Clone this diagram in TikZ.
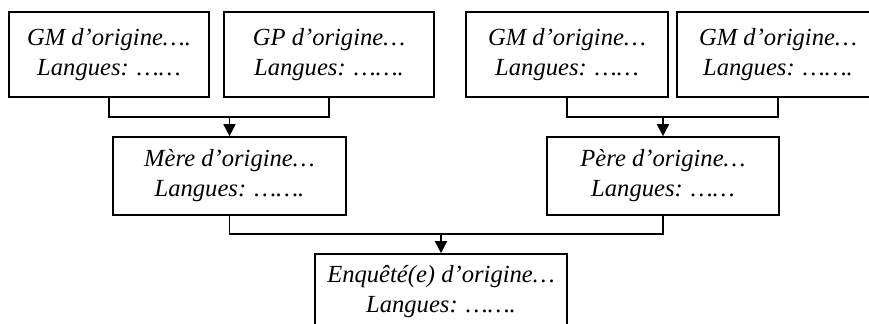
\documentclass[tikz,border=0pt]{standalone}
\usepackage{fontspec}
\setmainfont{Liberation Serif}
\usepackage{tikz}
\usetikzlibrary{arrows.meta, positioning, calc}

\tikzset{
  boite/.style={draw, line width=0.8pt, align=center, inner sep=0pt,
    font=\itshape\fontsize{12.3}{15}\selectfont},
  lien/.style={line width=0.8pt},
  fleche/.style={line width=0.8pt, -{Triangle[width=6pt,length=6pt]}}
}

\begin{document}
\begin{tikzpicture}[x=0.5pt, y=-0.5pt]
\useasboundingbox (0,0) rectangle (869,324);

% Grands-parents
\node[boite, minimum width=100pt, minimum height=42.5pt] (gm1) at (109,54.5) {GM d’origine….\\Langues: ……};
\node[boite, minimum width=105pt, minimum height=42.5pt] (gp1) at (329,54.5) {GP d’origine…\\Langues: …….};
\node[boite, minimum width=101pt, minimum height=42.5pt] (gm2) at (567,54.5) {GM d’origine…\\Langues: ……};
\node[boite, minimum width=101pt, minimum height=42.5pt] (gm3) at (778,54.5) {GM d’origine…\\Langues: …….};

% Parents
\node[boite, minimum width=116.5pt, minimum height=39pt] (mere) at (229.5,176) {Mère d’origine…\\Langues: …….};
\node[boite, minimum width=116pt, minimum height=39pt] (pere) at (663,176) {Père d’origine…\\Langues: ……};

% Enquete
\node[boite, minimum width=126pt, minimum height=38pt] (enq) at (441,292) {Enquêté(e) d’origine…\\Langues: …….};

% Liens
\coordinate (j1) at (229.5,117);
\coordinate (j2) at (663,117);
\coordinate (j3) at (441,234);

\draw[lien] (gm1.south) |- (j1) -| (gp1.south);
\draw[fleche] (j1) -- (mere.north);
\draw[lien] (gm2.south) |- (j2) -| (gm3.south);
\draw[fleche] (j2) -- (pere.north);
\draw[lien] (mere.south) |- (j3) -| (pere.south);
\draw[fleche] (j3) -- (enq.north);
\end{tikzpicture}
\end{document}
